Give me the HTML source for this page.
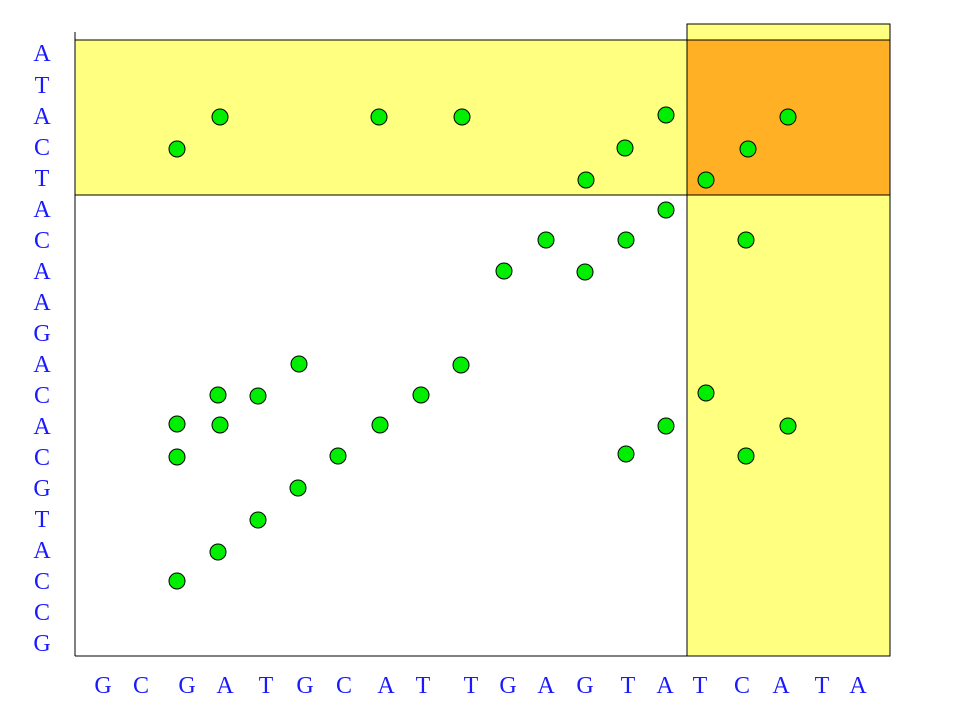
<!DOCTYPE html>
<html><head><style>body{margin:0;background:#fff}</style></head><body>
<svg width="960" height="720" xmlns="http://www.w3.org/2000/svg" font-family="Liberation Serif, serif" font-size="24" fill="#1a1aff">
<rect x="687" y="24" width="203" height="632" fill="#ffff80" stroke="#000" stroke-width="1"/>
<rect x="75" y="40" width="815" height="155" fill="#ffff80" stroke="#000" stroke-width="1"/>
<rect x="687" y="40" width="203" height="155" fill="#ffb024" stroke="#000" stroke-width="1"/>
<line x1="75" y1="32" x2="75" y2="656" stroke="#000"/>
<line x1="75" y1="656" x2="890" y2="656" stroke="#000"/>
<g text-anchor="middle">
<text x="42" y="61">A</text><text x="42" y="93">T</text><text x="42" y="124">A</text><text x="42" y="155">C</text><text x="42" y="186">T</text><text x="42" y="217">A</text><text x="42" y="248">C</text><text x="42" y="279">A</text><text x="42" y="310">A</text><text x="42" y="341">G</text><text x="42" y="372">A</text><text x="42" y="403">C</text><text x="42" y="434">A</text><text x="42" y="465">C</text><text x="42" y="496">G</text><text x="42" y="527">T</text><text x="42" y="558">A</text><text x="42" y="589">C</text><text x="42" y="620">C</text><text x="42" y="651">G</text>
<text x="103" y="693">G</text><text x="141" y="693">C</text><text x="187" y="693">G</text><text x="225" y="693">A</text><text x="266" y="693">T</text><text x="305" y="693">G</text><text x="344" y="693">C</text><text x="386" y="693">A</text><text x="423" y="693">T</text><text x="471" y="693">T</text><text x="508" y="693">G</text><text x="546" y="693">A</text><text x="585" y="693">G</text><text x="628" y="693">T</text><text x="665" y="693">A</text><text x="700" y="693">T</text><text x="742" y="693">C</text><text x="781" y="693">A</text><text x="822" y="693">T</text><text x="858" y="693">A</text>
</g>
<g fill="#00ee00" stroke="#000" stroke-width="1">
<circle cx="220" cy="117" r="8"/><circle cx="177" cy="149" r="8"/><circle cx="379" cy="117" r="8"/><circle cx="462" cy="117" r="8"/><circle cx="666" cy="115" r="8"/><circle cx="625" cy="148" r="8"/><circle cx="586" cy="180" r="8"/><circle cx="706" cy="180" r="8"/><circle cx="748" cy="149" r="8"/><circle cx="788" cy="117" r="8"/><circle cx="666" cy="210" r="8"/><circle cx="546" cy="240" r="8"/><circle cx="626" cy="240" r="8"/><circle cx="746" cy="240" r="8"/><circle cx="504" cy="271" r="8"/><circle cx="585" cy="272" r="8"/><circle cx="299" cy="364" r="8"/><circle cx="461" cy="365" r="8"/><circle cx="218" cy="395" r="8"/><circle cx="258" cy="396" r="8"/><circle cx="421" cy="395" r="8"/><circle cx="706" cy="393" r="8"/><circle cx="177" cy="424" r="8"/><circle cx="220" cy="425" r="8"/><circle cx="380" cy="425" r="8"/><circle cx="666" cy="426" r="8"/><circle cx="788" cy="426" r="8"/><circle cx="177" cy="457" r="8"/><circle cx="338" cy="456" r="8"/><circle cx="626" cy="454" r="8"/><circle cx="746" cy="456" r="8"/><circle cx="298" cy="488" r="8"/><circle cx="258" cy="520" r="8"/><circle cx="218" cy="552" r="8"/><circle cx="177" cy="581" r="8"/>
</g>
</svg>
</body></html>
